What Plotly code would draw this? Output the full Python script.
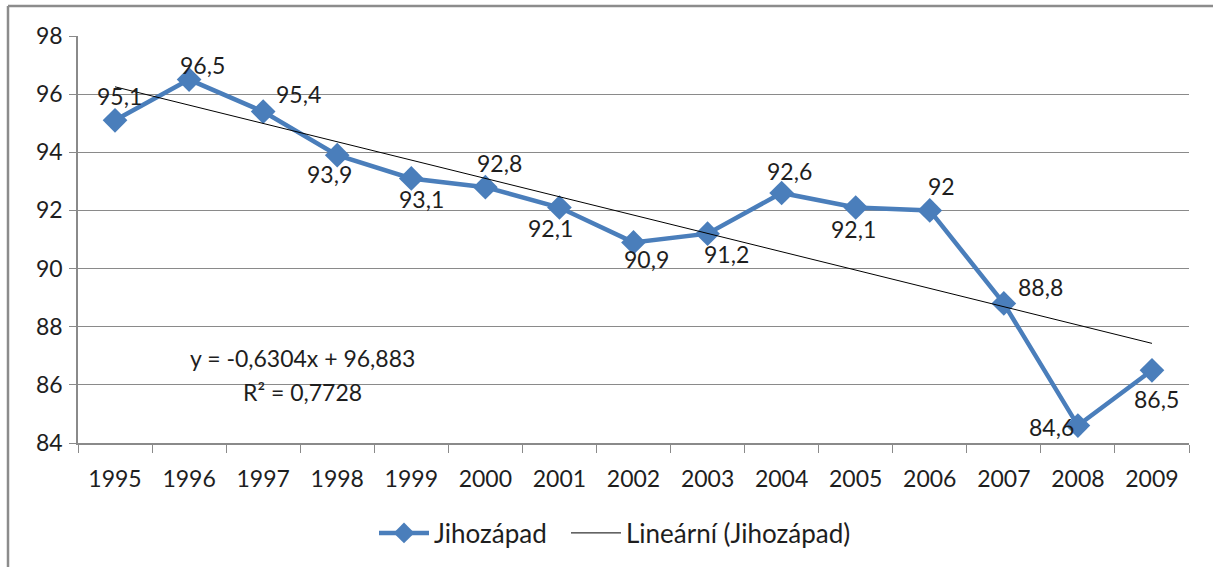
import numpy as np
import plotly.graph_objects as go

years = ["1995", "1996", "1997", "1998", "1999", "2000", "2001", "2002",
         "2003", "2004", "2005", "2006", "2007", "2008", "2009"]
values = [95.1, 96.5, 95.4, 93.9, 93.1, 92.8, 92.1, 90.9,
          91.2, 92.6, 92.1, 92.0, 88.8, 84.6, 86.5]
series_name = "Jihozápad"
trend_name = "Lineární (Jihozápad)"
eq_line1 = "y = -0,6304x + 96,883"
eq_line2 = "R² = 0,7728"
y_ticks = [84, 86, 88, 90, 92, 94, 96, 98]

# label offsets (pixels) relative to each marker
label_dx = [4, 13, 35, -8, 10, 14, -9, 13, 19, 8, -2, 12, 37, -26, 5]
label_dy = [24, 15, 18, -19, -21, 24, -20, -17, -20, 22, -21, 24, 16, -1, -29]

idx = np.arange(1, len(values) + 1)
slope, intercept = np.polyfit(idx, values, 1)
trend = slope * idx + intercept

FONT = "Lato, Calibri, Carlito, sans-serif"
BLUE = "#4A7EBB"
TXT = "#1e1e1e"
GRID = "#8a8a8a"

W, H = 1213, 567
L, R, T, B = 78, 24, 36, 124
pw, ph = W - L - R, H - T - B

fig = go.Figure()
fig.add_trace(go.Scatter(
    x=years, y=values, mode="lines+markers", name=series_name,
    line=dict(color=BLUE, width=4.5),
    marker=dict(symbol="diamond", size=19, color=BLUE),
    legend="legend",
))
fig.add_trace(go.Scatter(
    x=years, y=trend, mode="lines", name=trend_name,
    line=dict(color="#000000", width=1),
    legend="legend2",
))

def fmt(v):
    s = ("%.1f" % v)
    if s.endswith(".0"):
        s = s[:-2]
    return s.replace(".", ",")

annotations = []
for i, (v, dx, dy) in enumerate(zip(values, label_dx, label_dy)):
    annotations.append(dict(
        x=i, y=v, xref="x", yref="y", text=fmt(v), showarrow=False,
        xshift=dx, yshift=dy, font=dict(family=FONT, size=23, color=TXT),
        xanchor="center", yanchor="middle",
    ))

annotations.append(dict(
    x=(302 - L) / pw, y=(H - B - 358) / ph, xref="paper", yref="paper",
    text=eq_line1, showarrow=False, xanchor="center", yanchor="middle",
    font=dict(family=FONT, size=23, color=TXT)))
annotations.append(dict(
    x=(302 - L) / pw, y=(H - B - 392) / ph, xref="paper", yref="paper",
    text=eq_line2, showarrow=False, xanchor="center", yanchor="middle",
    font=dict(family=FONT, size=23, color=TXT)))

bx = (8 - L) / pw
ty = (H - B - 6) / ph
shapes = [
    dict(type="line", xref="paper", yref="paper", x0=bx, x1=bx, y0=-B / ph - 0.05, y1=ty,
         line=dict(color="#8c8c8c", width=2.5)),
    dict(type="line", xref="paper", yref="paper", x0=bx, x1=(W - L + 10) / pw, y0=ty, y1=ty,
         line=dict(color="#8c8c8c", width=2.5)),
]

leg_common = dict(orientation="h", xanchor="left",
                  y=(H - B - 533) / ph, yanchor="middle",
                  font=dict(family=FONT, size=26, color=TXT),
                  itemwidth=50, bgcolor="rgba(0,0,0,0)")

fig.update_layout(
    width=W, height=H,
    margin=dict(l=L, r=R, t=T, b=B, autoexpand=False),
    paper_bgcolor="white", plot_bgcolor="white",
    font=dict(family=FONT, size=23, color=TXT),
    showlegend=True,
    legend=dict(x=(374 - L) / pw, **leg_common),
    legend2=dict(x=(566 - L) / pw, **leg_common),
    xaxis=dict(
        type="category", range=[-0.5, len(years) - 0.5],
        tickson="boundaries", ticks="outside", ticklen=8, tickcolor=GRID,
        showline=True, linecolor=GRID, linewidth=1.5,
        showgrid=False, tickfont=dict(family=FONT, size=23, color=TXT),
        ticklabelstandoff=15,
    ),
    yaxis=dict(
        range=[84, 98], tickvals=y_ticks, ticktext=[str(t) for t in y_ticks],
        ticks="outside", ticklen=7, tickcolor=GRID,
        showline=True, linecolor=GRID, linewidth=1.5,
        showgrid=True, gridcolor=GRID, gridwidth=1.2, zeroline=False,
        tickfont=dict(family=FONT, size=23, color=TXT),
        ticklabelstandoff=2,
    ),
    annotations=annotations,
    shapes=shapes,
)

fig.write_html("out.html", config={"displayModeBar": False},
               post_script="document.body.style.margin='0';document.body.style.padding='0';document.body.style.overflow='hidden';")
